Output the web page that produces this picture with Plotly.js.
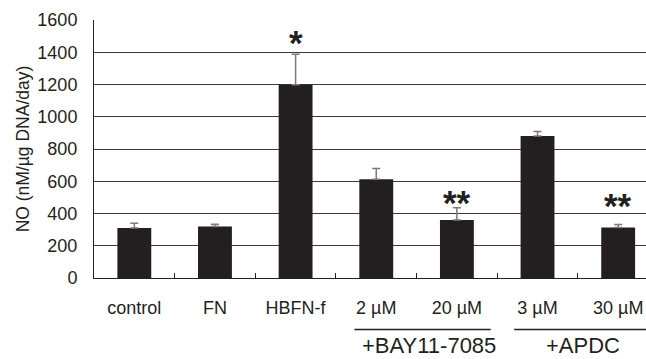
<!DOCTYPE html>
<html>
<head>
<meta charset="utf-8">
<script src="https://cdn.plot.ly/plotly-3.0.1.min.js"></script>
<style>html,body{margin:0;padding:0;background:#fff;}#chart{width:646px;height:359px;}</style>
</head>
<body>
<div id="chart"></div>
<script>
const categories = ["control", "FN", "HBFN-f", "2 µM", "20 µM", "3 µM", "30 µM"];
const values = [310, 319, 1198, 613, 360, 880, 313];
const errors = [30, 14, 190, 66, 75, 29, 19];
const yTicks = [0, 200, 400, 600, 800, 1000, 1200, 1400, 1600];
const stars = [{cat: "HBFN-f", text: "*", y: 1510}, {cat: "20 µM", text: "**", y: 520}, {cat: "30 µM", text: "**", y: 500}];
const groups = [{label: "+BAY11-7085", x0: 2.73, x1: 4.42, xc: 3.66}, {label: "+APDC", x0: 4.71, x1: 6.5, xc: 5.56}];

const font = "Arial, 'Liberation Sans', sans-serif";

const trace = {
  type: "bar",
  x: categories,
  y: values,
  width: 0.42,
  marker: {color: "#231f20", line: {width: 0}},
  error_y: {type: "data", symmetric: false, array: errors, arrayminus: errors.map(() => 0),
            color: "#7a7a7a", thickness: 1.5, width: 4},
  hoverinfo: "none"
};

const annotations = stars.map(s => ({
  x: s.cat, y: s.y, xref: "x", yref: "y", text: s.text, showarrow: false,
  font: {family: font, size: 35, color: "#231f20", weight: "bold"}, yshift: -8
}));
groups.forEach(g => annotations.push({
  x: g.xc, y: -0.318, xref: "x", yref: "paper", text: g.label, showarrow: false,
  font: {family: font, size: 22, color: "#231f20"}
}));

const shapes = groups.map(g => ({
  type: "line", xref: "x", yref: "paper", x0: g.x0, x1: g.x1, y0: -0.2, y1: -0.2,
  line: {color: "#231f20", width: 1.5}
}));

const layout = {
  width: 646, height: 359,
  margin: {l: 94, r: 0, t: 20, b: 81, pad: 0},
  paper_bgcolor: "#fff", plot_bgcolor: "#fff",
  showlegend: false,
  xaxis: {
    type: "category", range: [-0.5, 6.345], tickson: "boundaries", ticks: "inside",
    ticklen: 5, tickcolor: "#231f20", showline: true, linecolor: "#231f20", linewidth: 1,
    tickfont: {family: font, size: 18, color: "#231f20"}, ticklabelstandoff: 13,
    showgrid: false, zeroline: false, fixedrange: true
  },
  yaxis: {
    range: [0, 1600], tickvals: yTicks, ticktext: yTicks.map(String),
    showline: true, linecolor: "#231f20", linewidth: 1,
    gridcolor: "#3a3a3a", gridwidth: 1, zeroline: false, ticks: "",
    tickfont: {family: font, size: 18, color: "#231f20"}, ticklabelstandoff: 12,
    title: {text: "NO (nM/µg DNA/day)", font: {family: font, size: 17.5, color: "#231f20"}, standoff: 3},
    fixedrange: true
  },
  annotations: annotations,
  shapes: shapes
};

Plotly.newPlot("chart", [trace], layout, {displayModeBar: false, staticPlot: true});
</script>
</body>
</html>
